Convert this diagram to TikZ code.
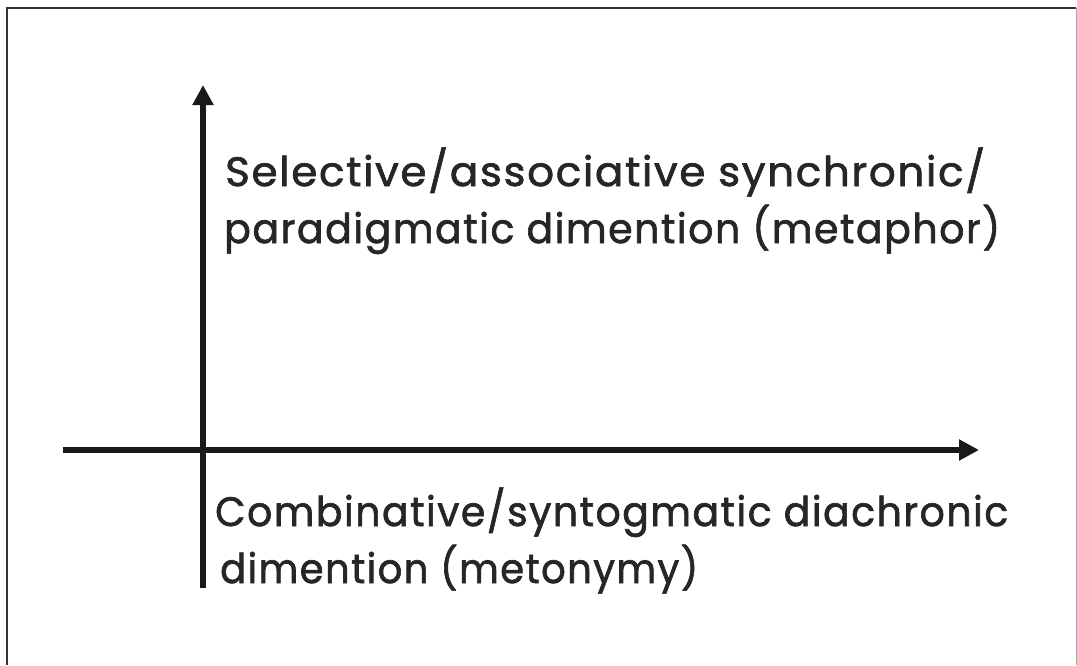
\documentclass[tikz,border=0pt]{standalone}
\usepackage{fontspec}
\setmainfont{Poppins}
\newfontfamily\axfont[LetterSpace=4,FakeBold=1.6]{Poppins}
\usetikzlibrary{arrows.meta}
\tikzset{
  axis/.style={line width=5.5pt, -{Triangle[length=20pt,width=20pt]}, color=black!90},
  lbl/.style={anchor=base west, inner sep=0pt, text=black!85, font=\axfont\fontsize{41}{50}\selectfont},
  frame/.style={line width=2pt, black!80}
}
\newcommand{\fitw}[2]{\resizebox{#1}{\height}{#2}}
\begin{document}
\begin{tikzpicture}[x=1pt,y=-1pt]
\useasboundingbox (0,0) rectangle (1077,665);
\fill[white] (0,0) rectangle (1077,665);
% frame
\coordinate (fbl) at (7,665);
\coordinate (ftl) at (7,8);
\coordinate (ftr) at (1076,8);
\coordinate (fbr) at (1076,665);
\draw[frame] (fbl) -- (ftl) -- (ftr);
\draw[line width=1pt, black!35] (ftr) -- (fbr);
% axes
\coordinate (vb) at (203,588);
\coordinate (vt) at (203,85);
\coordinate (hl) at (63,450);
\coordinate (hr) at (979,450);
\draw[axis] (vb) -- (vt);
\draw[axis] (hl) -- (hr);
% labels
\node[lbl] (t1) at (225,186) {\fitw{760pt}{Selective/associative synchronic/}};
\node[lbl] (t2) at (224,243) {\fitw{776pt}{paradigmatic dimention (metaphor)}};
\node[lbl] (t3) at (215,526) {\fitw{793pt}{Combinative/syntogmatic diachronic}};
\node[lbl] (t4) at (220,583) {\fitw{478pt}{dimention (metonymy)}};
\end{tikzpicture}
\end{document}
